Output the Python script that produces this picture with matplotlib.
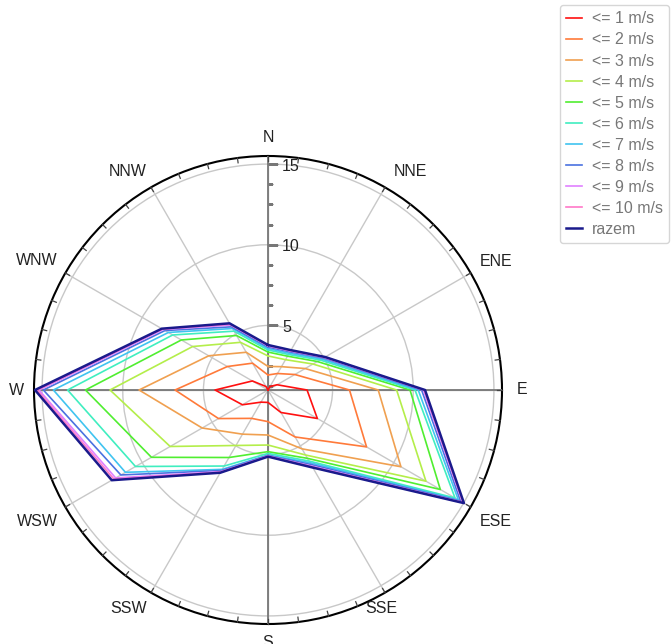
import numpy as np
import matplotlib
matplotlib.use('Agg')
import matplotlib.pyplot as plt
from matplotlib.transforms import offset_copy

plt.rcParams.update({
    'font.family': ['Liberation Sans', 'DejaVu Sans'],
    'font.size': 10,
})

# Wind directions (12 sectors, 30 deg apart)
directions = ['N', 'NNE', 'ENE', 'E', 'ESE', 'SSE', 'S', 'SSW', 'WSW', 'W', 'WNW', 'NNW']
angles_deg = [0, 30, 60, 90, 120, 150, 180, 210, 240, 270, 300, 330]

# Frequency per direction, cumulative by wind speed class
le_1 = [1.00, 1.25, 1.65, 3.42, 4.53, 2.61, 1.77, 1.87, 2.83, 4.28, 2.12, 1.25]
le_2 = [1.93, 2.18, 2.92, 6.05, 8.05, 4.36, 2.96, 3.03, 4.54, 6.76, 3.91, 2.92]
le_3 = [2.46, 2.67, 3.66, 7.83, 10.51, 5.21, 3.79, 4.16, 5.71, 8.99, 5.24, 3.70]
le_4 = [3.11, 3.17, 4.22, 8.97, 12.30, 5.65, 4.41, 4.97, 8.00, 10.79, 6.39, 4.41]
le_5 = [3.35, 3.42, 4.53, 9.80, 13.33, 5.89, 4.82, 5.83, 9.34, 12.31, 7.20, 4.90]
le_6 = [3.48, 3.54, 4.72, 10.11, 14.38, 6.08, 4.93, 6.44, 10.48, 13.42, 7.82, 5.21]
le_7 = [3.57, 3.63, 4.84, 10.31, 14.62, 6.20, 5.03, 6.68, 11.20, 14.30, 8.13, 5.40]
le_8 = [3.66, 3.73, 4.97, 10.52, 14.78, 6.33, 5.06, 6.76, 11.53, 14.92, 8.37, 5.52]
le_9 = [3.73, 3.79, 5.03, 10.63, 14.92, 6.45, 5.09, 6.84, 11.90, 15.19, 8.50, 5.65]
le_10 = [3.76, 3.82, 5.06, 10.68, 14.97, 6.51, 5.11, 6.89, 12.03, 15.31, 8.56, 5.71]
razem = [3.79, 3.85, 5.09, 10.73, 15.02, 6.55, 5.13, 6.92, 12.18, 15.44, 8.60, 5.77]

series_labels = ['<= 1 m/s', '<= 2 m/s', '<= 3 m/s', '<= 4 m/s', '<= 5 m/s',
                 '<= 6 m/s', '<= 7 m/s', '<= 8 m/s', '<= 9 m/s', '<= 10 m/s', 'razem']
series = [le_1, le_2, le_3, le_4, le_5, le_6, le_7, le_8, le_9, le_10, razem]
colors = ['#ff1010', '#ff7a3a', '#f0a050', '#b4ee4a', '#50ee30',
          '#40eec0', '#40c4f0', '#4a72e0', '#e080ff', '#ff78c8', '#1a1a8c']

# nudges (pixels) of the direction labels from their anchor point
label_dx = [0, 16, 10, 2, 9, -13, 0, -13, -12, 1, -13, -14]
label_dy = [0, 0, 2, 0, -5, 0, 0, 0, -5, 0, 3, 0]

R_MIN = 1.0
R_MAX = 15.5
R_LABEL = 16.62
GRID = '#c8c8c8'
AXIS = '#777777'

fig = plt.figure(figsize=(6.72, 6.44), dpi=100)
ax = fig.add_axes([34 / 672, 20 / 644, 468 / 672, 468 / 644], projection='polar')
ax.set_theta_zero_location('N')
ax.set_theta_direction(-1)
ax.set_rlim(R_MIN, R_MAX)

theta = np.deg2rad(angles_deg + [angles_deg[0]])
for vals, col, lab in zip(series, colors, series_labels):
    lw = 1.8 if lab == 'razem' else 1.2
    ax.plot(theta, vals + [vals[0]], color=col, lw=lw, label=lab, zorder=5)

# grid
ax.set_thetagrids(angles_deg, [''] * len(angles_deg))
ax.tick_params(axis='x', size=0)
ax.set_yticks([5, 10, 15])
ax.set_yticklabels([])
ax.grid(True, color=GRID, lw=1.0)
ax.spines['polar'].set_color('black')
ax.spines['polar'].set_linewidth(1.5)

for a, name, dx, dy in zip(angles_deg, directions, label_dx, label_dy):
    tr = offset_copy(ax.transData, fig=fig, x=dx, y=dy, units='dots')
    ax.text(np.deg2rad(a), R_LABEL, name, transform=tr, ha='center', va='center',
            fontsize=11.5, color='#222222', clip_on=False)

# darker main axes N-S, E-W
for a in [0, 90, 180, 270]:
    ax.plot([np.deg2rad(a)] * 2, [R_MIN, R_MAX], color=AXIS, lw=1.3, zorder=3)

# outer ticks every 7.5 deg
for a in np.arange(0, 360, 7.5):
    ax.plot([np.deg2rad(a)] * 2, [R_MAX - 0.3, R_MAX], color='#444444', lw=0.9,
            zorder=4, clip_on=False)

# radial ticks along north axis
minor = np.arange(1.25, 15.01, 1.25)
ax.plot(np.zeros(len(minor)), minor, ls='none', marker=1, ms=3.5, mew=0.8,
        color=AXIS, zorder=4)
ax.plot(np.zeros(3), [5, 10, 15], ls='none', marker=1, ms=7, mew=0.9,
        color=AXIS, zorder=4)
lab_tr = offset_copy(ax.transData, fig=fig, x=10, y=-1.5, units='points')
for v in [5, 10, 15]:
    ax.text(0, v, str(v), transform=lab_tr, ha='left', va='center',
            fontsize=11.5, color='#222222', zorder=6)

leg = fig.legend(loc='upper right', bbox_to_anchor=(669 / 672, 1 - 5 / 644),
                 borderaxespad=0, frameon=True, fancybox=True, fontsize=11.5,
                 handlelength=1.0, handletextpad=0.6, labelspacing=0.38,
                 labelcolor='#777777')
leg.get_frame().set_edgecolor('#cccccc')
leg.get_frame().set_linewidth(1.0)

fig.savefig('out.png', dpi=100, facecolor='white')
